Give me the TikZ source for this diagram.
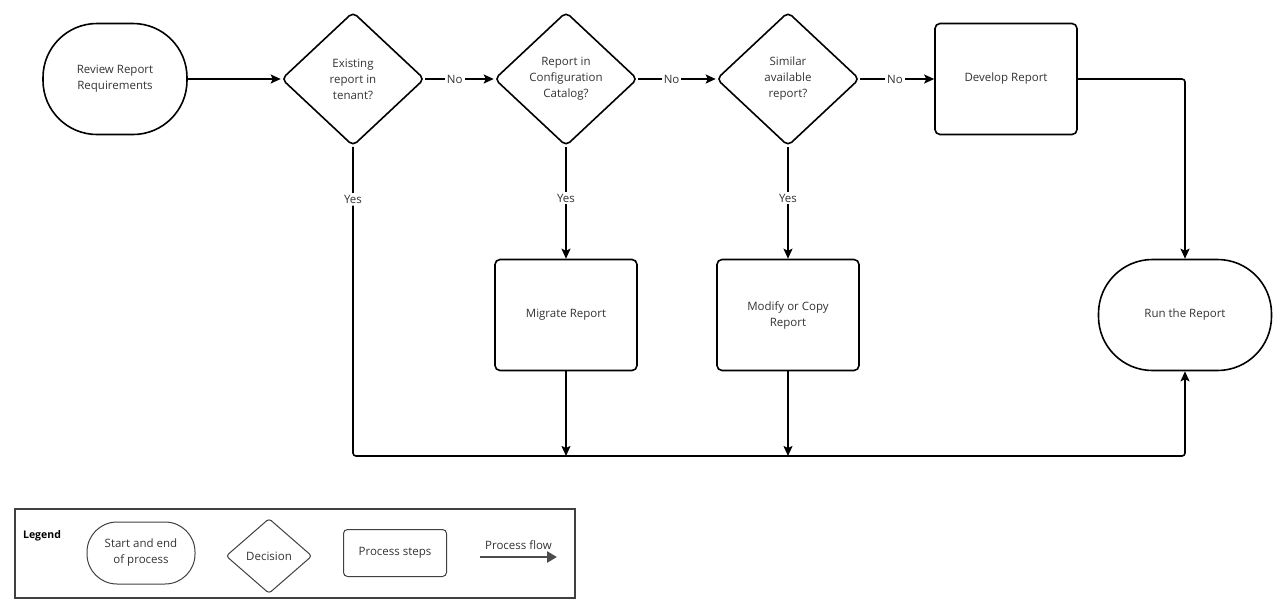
\documentclass[tikz,border=0pt]{standalone}
\usepackage{fontspec}
\setmainfont{Open Sans}
\usetikzlibrary{arrows.meta, positioning, shapes.geometric}

\begin{document}
\begin{tikzpicture}[x=1pt, y=-1pt, >={Stealth[length=10pt, width=9pt, inset=2pt]},
    font=\fontsize{11.5}{16}\selectfont, text=black!80]
  \tikzset{
    terminal/.style={draw, line width=1.6pt, rounded corners=54pt,
      minimum width=144pt, minimum height=111pt, align=center, inner sep=2pt},
    decision/.style={draw, diamond, line width=1.6pt, rounded corners=5pt,
      minimum width=143pt, minimum height=134pt, inner sep=0pt, align=center},
    process/.style={draw, line width=1.6pt, rounded corners=5pt,
      minimum width=142pt, minimum height=111pt, align=center},
    flow/.style={->, line width=1.6pt, draw=black},
    lbl/.style={fill=white, inner sep=2pt, text=black!80},
    keybox/.style={draw=black!75, line width=1pt, align=center, inner sep=2pt},
  }
  \useasboundingbox (0,0) rectangle (1280,606);

  % main row
  \node[terminal] (review) at (115,79) {Review Report\\Requirements};
  \node[decision] (existing) at (353,79) {Existing\\report in\\tenant?};
  \node[decision] (catalog) at (566,79) {Report in\\Configuration\\Catalog?};
  \node[decision] (similar) at (788,79) {Similar\\available\\report?};
  \node[process] (develop) at (1006,79) {Develop Report};

  % second row
  \node[process] (migrate) at (566,315) {Migrate Report};
  \node[process] (modify) at (788,315) {Modify or Copy\\Report};
  \node[terminal, minimum width=173pt, rounded corners=54pt] (run) at (1185,315)
    {Run the Report};

  \coordinate (bl) at (353,456);
  \coordinate (br) at (1185,456);

  % connectors
  \draw[flow] (review) -- (existing);
  \draw[flow] (existing) -- node[lbl, pos=0.43] {No} (catalog);
  \draw[flow] (catalog) -- node[lbl, pos=0.43] {No} (similar);
  \draw[flow] (similar) -- node[lbl, pos=0.47] {No} (develop);
  \draw[flow] (catalog) -- node[lbl, pos=0.46] {Yes} (migrate);
  \draw[flow] (similar) -- node[lbl, pos=0.46] {Yes} (modify);
  \draw[flow, rounded corners=3pt] (existing) -- node[lbl, pos=0.17] {Yes} (bl)
    -- (br) -- (run);
  \draw[flow] (migrate) -- (migrate.south |- bl);
  \draw[flow] (modify) -- (modify.south |- bl);
  \draw[flow, rounded corners=3pt] (develop) -| (run);

  % legend
  \draw[draw=black!75, line width=1.3pt] (15,509) rectangle (575,598);
  \node[font=\fontsize{10.5}{12}\selectfont\bfseries, text=black] (legend) at (42,536) {Legend};
  \node[keybox, rounded corners=30pt, minimum width=108pt, minimum height=62pt]
    (keyterm) at (141,553) {Start and end\\of process};
  \node[keybox, diamond, rounded corners=3pt, minimum width=86pt, minimum height=75pt,
    inner sep=0pt] (keydec) at (269,556) {Decision};
  \node[keybox, rounded corners=4pt, minimum width=103pt, minimum height=47pt]
    (keyproc) at (395,553) {Process steps};
  \coordinate (keyflowa) at (480,557);
  \coordinate (keyflowb) at (557,557);
  \draw[-{Triangle[length=10pt, width=11pt]}, draw=black!70, fill=black!70,
    line width=2.5pt] (keyflowa) -- (keyflowb)
    node[midway, above=3pt, text=black!80] (keyflow) {Process flow};
\end{tikzpicture}
\end{document}
